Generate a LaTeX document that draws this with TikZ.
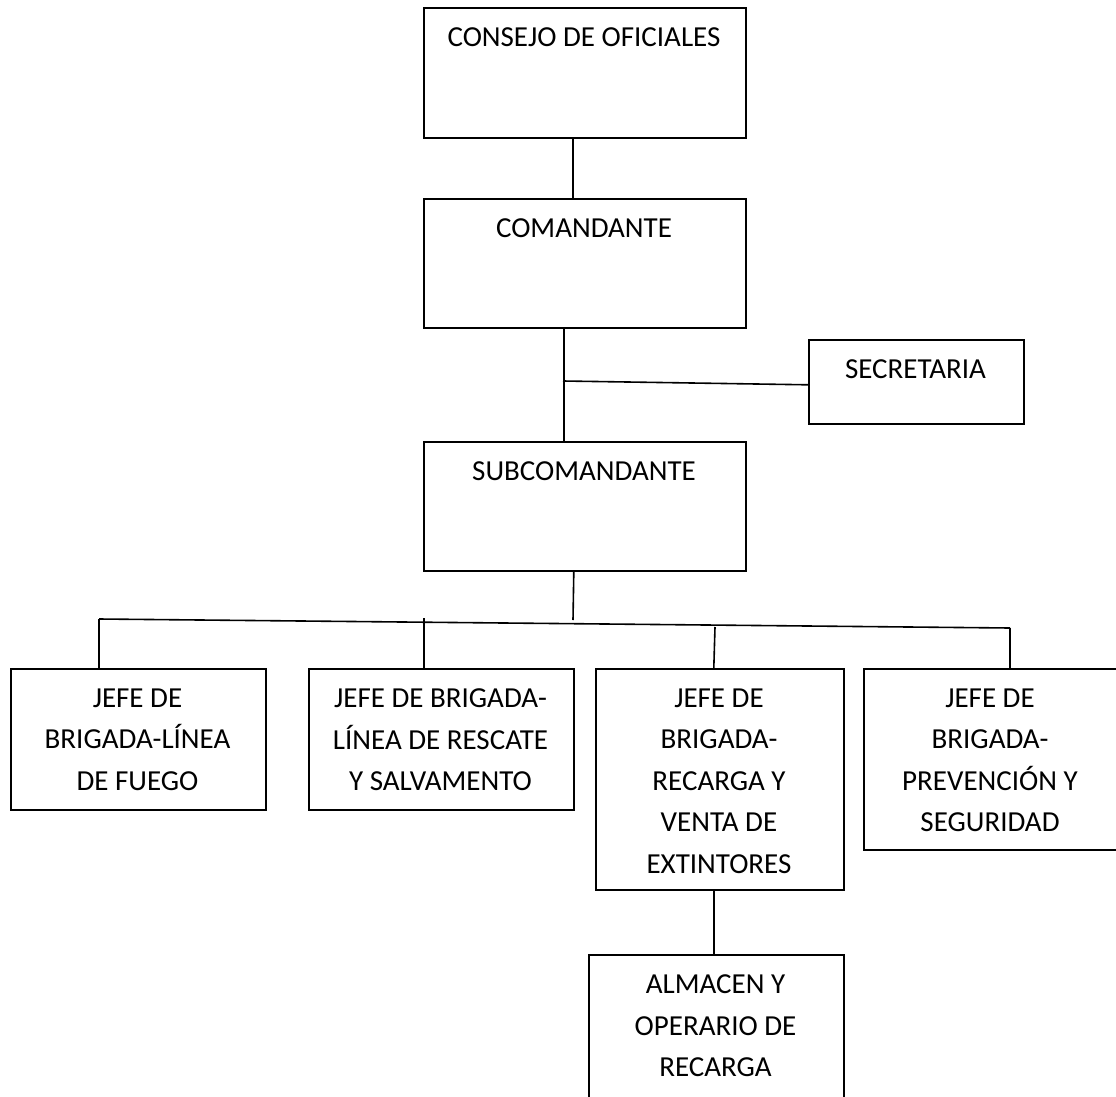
\documentclass[tikz,border=0pt]{standalone}
\usepackage{fontspec}
\setmainfont{Carlito}
\begin{document}
\begin{tikzpicture}[x=1pt,y=-1pt,
  box/.style={draw, line width=1.6pt, inner sep=0pt, anchor=north west},
  lbl/.style={font=\fontsize{29}{41.5}\selectfont, align=center, anchor=north, inner sep=0pt},
  conn/.style={line width=1.6pt}]
\useasboundingbox (0,0) rectangle (1116,1097);
\clip (0,0) rectangle (1116,1097);
% boxes
\node[box, minimum width=322pt, minimum height=130pt] (consejo) at (423,7) {};
\node[box, minimum width=322pt, minimum height=129pt] (comandante) at (423,198) {};
\node[box, minimum width=215pt, minimum height=84pt] (secretaria) at (808,339) {};
\node[box, minimum width=322pt, minimum height=129pt] (subcomandante) at (423,441) {};
\node[box, minimum width=255pt, minimum height=141pt] (b1) at (10,668) {};
\node[box, minimum width=265pt, minimum height=141pt] (b2) at (308,668) {};
\node[box, minimum width=248pt, minimum height=221pt] (b3) at (595,668) {};
\node[box, minimum width=254pt, minimum height=181pt] (b4) at (863,668) {};
\node[box, minimum width=255pt, minimum height=160pt] (b5) at (588,954) {};
% labels
\node[lbl] (tconsejo) at (584,27.5) {CONSEJO DE OFICIALES};
\node[lbl] (tcomandante) at (584,218.5) {COMANDANTE};
\node[lbl] (tsecretaria) at (915.5,359.5) {SECRETARIA};
\node[lbl] (tsub) at (584,461.5) {SUBCOMANDANTE};
\node[lbl] (tb1) at (137.5,688.5) {JEFE DE\\BRIGADA-LÍNEA\\DE FUEGO};
\node[lbl] (tb2) at (440.5,688.5) {JEFE DE BRIGADA-\\LÍNEA DE RESCATE\\Y SALVAMENTO};
\node[lbl] (tb3) at (719,688.5) {JEFE DE\\BRIGADA-\\RECARGA Y\\VENTA DE\\EXTINTORES};
\node[lbl] (tb4) at (990,688.5) {JEFE DE\\BRIGADA-\\PREVENCIÓN Y\\SEGURIDAD};
\node[lbl] (tb5) at (715.5,974.5) {ALMACEN Y\\OPERARIO DE\\RECARGA};
% junction coordinates
\coordinate (j1) at (563,381);
\coordinate (bustop) at (573,620);
\coordinate (bL) at (99,619);
\coordinate (bR) at (1010,628);
\coordinate (t2) at (424,618);
\coordinate (t3) at (715,627);
% connectors
\draw[conn] ([xshift=-12pt]consejo.south) -- ([xshift=-12pt]comandante.north);
\draw[conn] ([xshift=-21pt]comandante.south) -- ([xshift=-21pt]subcomandante.north);
\draw[conn] (j1) -- ([yshift=-3pt]secretaria.west);
\draw[conn] ([xshift=-11pt]subcomandante.south) -- (bustop);
\draw[conn] (bL) -- (bR);
\draw[conn] (bL) -- (bL |- b1.north);
\draw[conn] (t2) -- (t2 |- b2.north);
\draw[conn] (t3) -- ([xshift=-6pt]b3.north);
\draw[conn] (bR) -- (bR |- b4.north);
\draw[conn] ([xshift=-6pt]b3.south) -- ([xshift=-2.5pt]b5.north);
\end{tikzpicture}
\end{document}
